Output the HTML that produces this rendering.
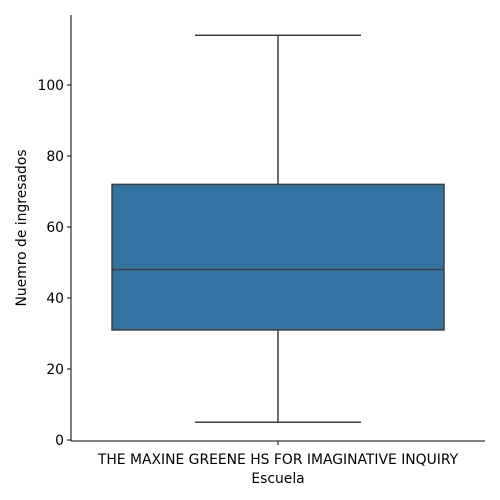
<!DOCTYPE html>
<html><head><meta charset="utf-8">
<style>
body{margin:0;background:#fff;}
svg{display:block;font-family:"DejaVu Sans","Liberation Sans",sans-serif;}
</style></head>
<body>
<svg id="chart" width="500" height="500"></svg>
<script>
const categories = ["THE MAXINE GREENE HS FOR IMAGINATIVE INQUIRY"];
const whiskerLow = [5];
const q1Values = [31];
const medianValues = [48];
const q3Values = [72];
const whiskerHigh = [114];
const yTicks = [0, 20, 40, 60, 80, 100];

const NS = "http://www.w3.org/2000/svg";
const svg = document.getElementById("chart");
const L = 71, R = 485, T = 15, B = 441;
const y0 = 440, pxPerUnit = 3.55;
const FS = 13.9;
function yScale(v){ return y0 - v * pxPerUnit; }
const bandW = (R - L) / categories.length;
function xCenter(i){ return L + bandW * (i + 0.5); }

function mk(tag, attrs){
  const e = document.createElementNS(NS, tag);
  for (const k in attrs) e.setAttribute(k, attrs[k]);
  svg.appendChild(e);
  return e;
}

let e = mk("line",{x1:L,y1:T,x2:L,y2:B,stroke:"#000","stroke-width":1});


e = mk("line",{x1:L,y1:B,x2:R,y2:B,stroke:"#000","stroke-width":1});



yTicks.forEach(t=>{
  const y = yScale(t);
  let tk = mk("line",{x1:L-4,y1:y,x2:L,y2:y,stroke:"#000","stroke-width":1});
  
  
  let lb = mk("text",{x:L-7,y:y+5,"text-anchor":"end","font-size":FS,fill:"#000"});
  lb.textContent = t;
  
  
});

categories.forEach((c,i)=>{
  const cx = xCenter(i);
  const boxHalf = 166, capHalf = 83;
  const col = "#3f3f3f";
  let w = mk("line",{x1:cx,y1:yScale(whiskerHigh[i]),x2:cx,y2:yScale(q3Values[i]),stroke:col,"stroke-width":1.5});
  
  
  w = mk("line",{x1:cx,y1:yScale(q1Values[i]),x2:cx,y2:yScale(whiskerLow[i]),stroke:col,"stroke-width":1.5});
  
  
  w = mk("line",{x1:cx-capHalf,y1:yScale(whiskerHigh[i]),x2:cx+capHalf,y2:yScale(whiskerHigh[i]),stroke:col,"stroke-width":1.5});
  
  
  w = mk("line",{x1:cx-capHalf,y1:yScale(whiskerLow[i]),x2:cx+capHalf,y2:yScale(whiskerLow[i]),stroke:col,"stroke-width":1.5});
  
  
  const bx = mk("rect",{x:cx-boxHalf,y:yScale(q3Values[i]),width:boxHalf*2,height:yScale(q1Values[i])-yScale(q3Values[i]),fill:"#3274a1",stroke:col,"stroke-width":1.5});
  
  
  const md = mk("line",{x1:cx-boxHalf,y1:yScale(medianValues[i]),x2:cx+boxHalf,y2:yScale(medianValues[i]),stroke:col,"stroke-width":1.5});
  
  
  const tk = mk("line",{x1:cx,y1:B,x2:cx,y2:B+4,stroke:"#000","stroke-width":1});
  
  
  const lb = mk("text",{x:cx,y:B+23,"text-anchor":"middle","font-size":FS,fill:"#000"});
  lb.textContent = c;
  
  
});

let xt = mk("text",{x:278,y:483,"text-anchor":"middle","font-size":FS,fill:"#000"});
xt.textContent = "Escuela";


let yt = mk("text",{x:26,y:228,"text-anchor":"middle","font-size":FS,fill:"#000",transform:"rotate(-90 26 228)"});
yt.textContent = "Nuemro de ingresados";


</script>
</body></html>
